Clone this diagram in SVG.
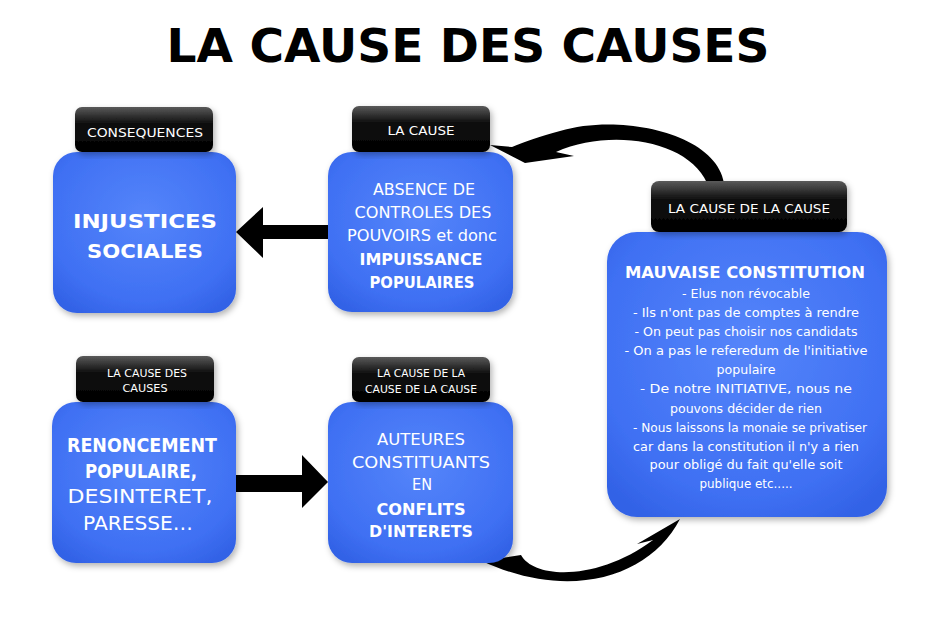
<svg xmlns="http://www.w3.org/2000/svg" width="948" height="619" viewBox="0 0 948 619">
<defs>
<radialGradient id="blue" cx="50%" cy="40%" r="70%">
<stop offset="0" stop-color="#5585fa"/>
<stop offset="0.75" stop-color="#3f70f3"/>
<stop offset="1" stop-color="#3262e6"/>
</radialGradient>
<linearGradient id="black" x1="0" y1="0" x2="0" y2="1">
<stop offset="0" stop-color="#5a5a5a"/>
<stop offset="0.35" stop-color="#111"/>
<stop offset="1" stop-color="#000"/>
</linearGradient>
<filter id="sh" x="-10%" y="-10%" width="125%" height="125%">
<feDropShadow dx="2" dy="3" stdDeviation="3" flood-color="#000" flood-opacity="0.3"/>
</filter>
</defs>
<style>
text{font-family:"DejaVu Sans","Comic Sans MS",sans-serif;text-anchor:middle;fill:#fff}
.title{fill:#000;font-weight:bold;font-size:46px}
.lbl{font-size:13px}
.lbs{font-size:11px}
.box{fill:url(#blue);filter:url(#sh)}
.tag{fill:url(#black);filter:url(#sh)}
.b{font-weight:bold}
.t17{font-size:16px}
.t20{font-size:19px}
.t14{font-size:13px}
.arr{fill:#000}
</style>
<text class="title" x="468" y="62" textLength="603" lengthAdjust="spacingAndGlyphs">LA CAUSE DES CAUSES</text>

<g id="connectors">
<polygon class="arr" points="236,232 263,207 263,225 330,225 330,239 263,239 263,258"/>
<polygon class="arr" points="236,475 302,475 302,455 328,482 302,508 302,492 236,492"/>
<path class="arr" d="M490,145 L525,163 L574,156 L556,152 C610,128 688,140 707,183 L724,183 C716,133 620,113 560,131 C540,136 525,142 512,147 Z"/>
<path class="arr" d="M482,561 L521,555 C535,580 600,580 653,540 L637,544 L680,519 C650,577 570,602 482,561 Z"/>
</g>

<g id="node-consequences">
<rect class="box" x="53" y="152" width="183" height="161" rx="24"/>
<rect class="tag" x="75" y="107" width="138" height="45" rx="7"/>
<text class="lbl" x="145" y="137" textLength="116" lengthAdjust="spacingAndGlyphs">CONSEQUENCES</text>
<text class="t20 b" x="145" y="228" textLength="144" lengthAdjust="spacingAndGlyphs">INJUSTICES</text>
<text class="t20 b" x="145" y="258" textLength="116" lengthAdjust="spacingAndGlyphs">SOCIALES</text>
</g>

<g id="node-la-cause">
<rect class="box" x="328" y="152" width="185" height="160" rx="24"/>
<rect class="tag" x="352" y="106" width="138" height="46" rx="7"/>
<text class="lbl" x="421" y="135" textLength="67" lengthAdjust="spacingAndGlyphs">LA CAUSE</text>
<text class="t17" x="424" y="195" textLength="102" lengthAdjust="spacingAndGlyphs">ABSENCE DE</text>
<text class="t17" x="423" y="218" textLength="137" lengthAdjust="spacingAndGlyphs">CONTROLES DES</text>
<text class="t17" x="422" y="241" textLength="150" lengthAdjust="spacingAndGlyphs">POUVOIRS <tspan>et donc</tspan></text>
<text class="t17 b" x="421" y="265" textLength="123" lengthAdjust="spacingAndGlyphs">IMPUISSANCE</text>
<text class="t17 b" x="422" y="288" textLength="105" lengthAdjust="spacingAndGlyphs">POPULAIRES</text>
</g>

<g id="node-cause-de-la-cause">
<rect class="box" x="607" y="232" width="280" height="285" rx="30"/>
<rect class="tag" x="651" y="181" width="196" height="51" rx="8"/>
<text class="lbl" x="749" y="213" textLength="162" lengthAdjust="spacingAndGlyphs">LA CAUSE DE LA CAUSE</text>
<text class="t17 b" x="745" y="278" textLength="240" lengthAdjust="spacingAndGlyphs">MAUVAISE CONSTITUTION</text>
<text class="t14" x="746" y="298" textLength="128" lengthAdjust="spacingAndGlyphs">- Elus non révocable</text>
<text class="t14" x="746" y="317" textLength="226" lengthAdjust="spacingAndGlyphs">- Ils n'ont pas de comptes à rendre</text>
<text class="t14" x="746" y="336" textLength="223" lengthAdjust="spacingAndGlyphs">- On peut pas choisir nos candidats</text>
<text class="t14" x="746" y="355" textLength="243" lengthAdjust="spacingAndGlyphs">- On a pas le referedum de l'initiative</text>
<text class="t14" x="746" y="374" textLength="59" lengthAdjust="spacingAndGlyphs">populaire</text>
<text class="t14" x="746" y="393" textLength="212" lengthAdjust="spacingAndGlyphs">- De notre INITIATIVE, nous ne</text>
<text class="t14" x="746" y="413" textLength="152" lengthAdjust="spacingAndGlyphs">pouvons décider de rien</text>
<text class="t14" x="750" y="432" textLength="234" lengthAdjust="spacingAndGlyphs">- Nous laissons la monaie se privatiser</text>
<text class="t14" x="746" y="451" textLength="226" lengthAdjust="spacingAndGlyphs">car dans la constitution il n'y a rien</text>
<text class="t14" x="746" y="469" textLength="193" lengthAdjust="spacingAndGlyphs">pour obligé du fait qu'elle soit</text>
<text class="t14" x="746" y="488" textLength="93" lengthAdjust="spacingAndGlyphs">publique etc.....</text>
</g>

<g id="node-cause-des-causes">
<rect class="box" x="52" y="402" width="184" height="161" rx="24"/>
<rect class="tag" x="76" y="356" width="138" height="46" rx="7"/>
<text class="lbs" x="147" y="377" textLength="80" lengthAdjust="spacingAndGlyphs">LA CAUSE DES</text>
<text class="lbs" x="145" y="392" textLength="45" lengthAdjust="spacingAndGlyphs">CAUSES</text>
<text class="t20 b" x="142" y="452" textLength="150" lengthAdjust="spacingAndGlyphs">RENONCEMENT</text>
<text class="t20 b" x="141" y="478" textLength="112" lengthAdjust="spacingAndGlyphs">POPULAIRE,</text>
<text class="t20" x="140" y="503" textLength="145" lengthAdjust="spacingAndGlyphs">DESINTERET,</text>
<text class="t20" x="138" y="530" textLength="110" lengthAdjust="spacingAndGlyphs">PARESSE…</text>
</g>

<g id="node-cause-cause-cause">
<rect class="box" x="328" y="402" width="185" height="161" rx="24"/>
<rect class="tag" x="352" y="357" width="138" height="45" rx="7"/>
<text class="lbs" x="421" y="377" textLength="88" lengthAdjust="spacingAndGlyphs">LA CAUSE DE LA</text>
<text class="lbs" x="421" y="393" textLength="112" lengthAdjust="spacingAndGlyphs">CAUSE DE LA CAUSE</text>
<text class="t17" x="421" y="445" textLength="88" lengthAdjust="spacingAndGlyphs">AUTEURES</text>
<text class="t17" x="421" y="468" textLength="138" lengthAdjust="spacingAndGlyphs">CONSTITUANTS</text>
<text class="t17" x="422" y="490" textLength="20" lengthAdjust="spacingAndGlyphs">EN</text>
<text class="t17 b" x="421" y="515" textLength="89" lengthAdjust="spacingAndGlyphs">CONFLITS</text>
<text class="t17 b" x="421" y="537" textLength="104" lengthAdjust="spacingAndGlyphs">D'INTERETS</text>
</g>
</svg>
